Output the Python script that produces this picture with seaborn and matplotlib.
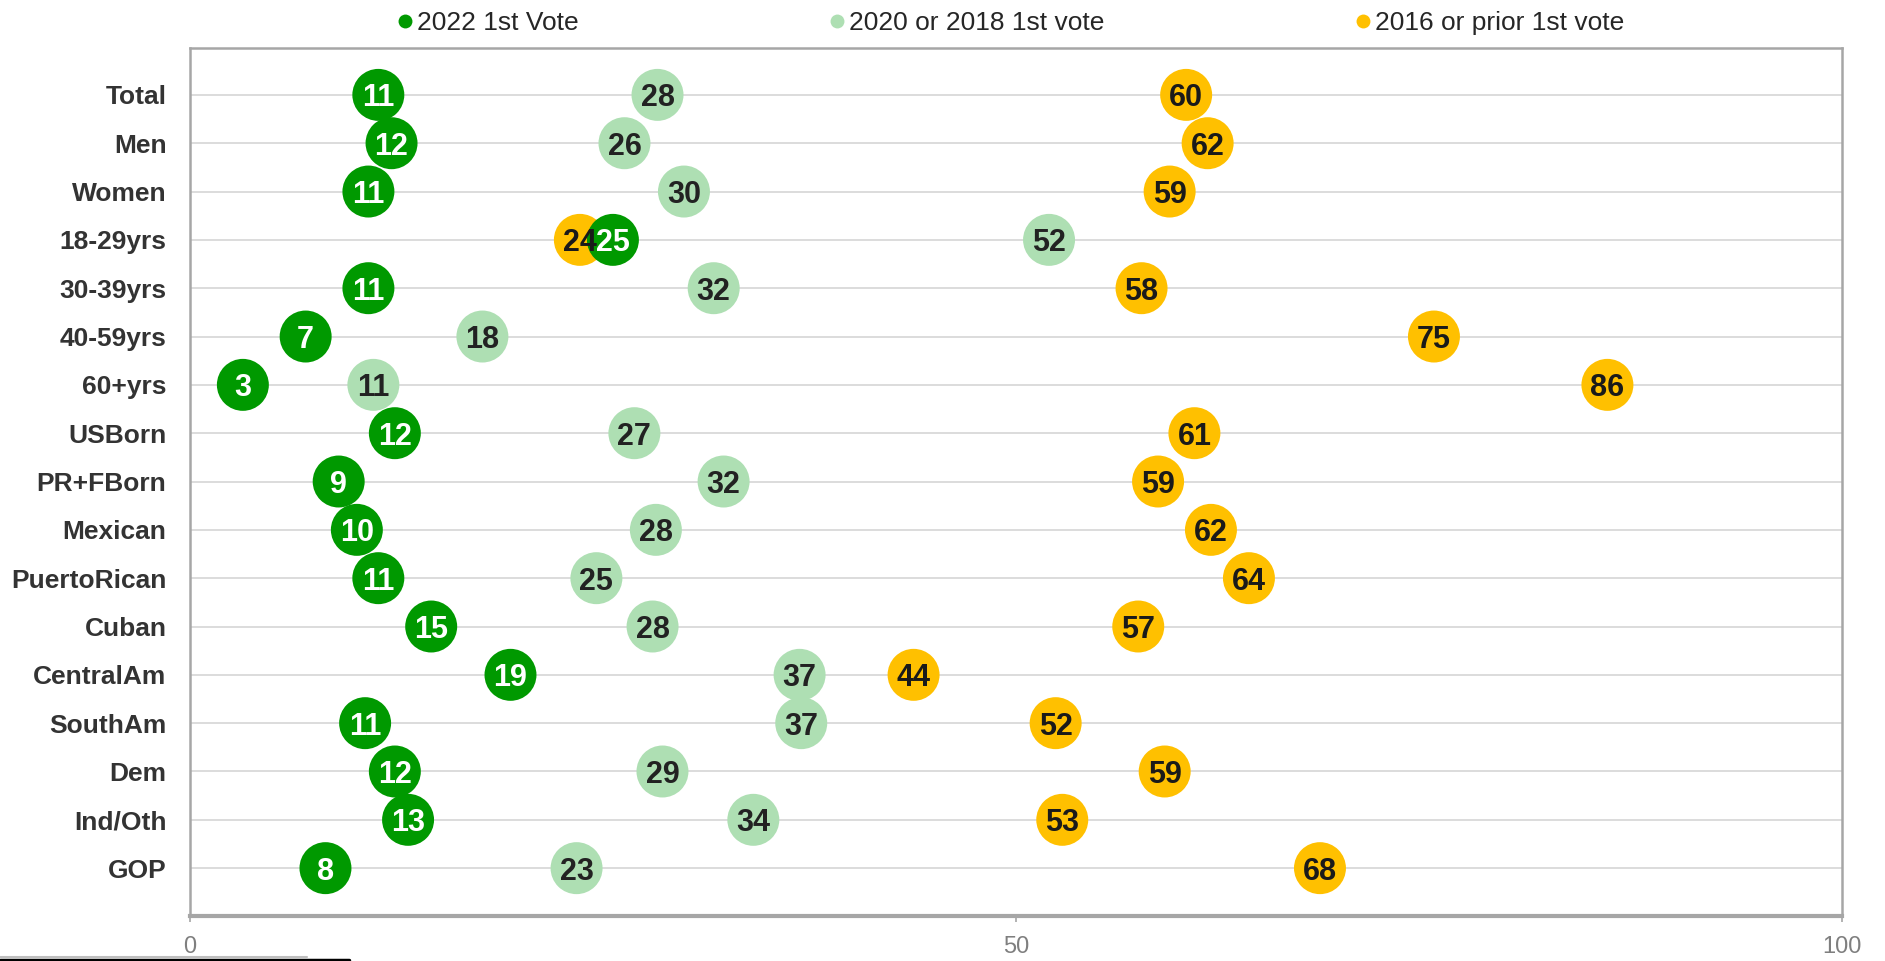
import matplotlib
matplotlib.use("Agg")
import matplotlib.pyplot as plt
from matplotlib.lines import Line2D
import pandas as pd
import seaborn as sns

groups = ["Total", "Men", "Women", "18-29yrs", "30-39yrs", "40-59yrs", "60+yrs",
          "USBorn", "PR+FBorn", "Mexican", "PuertoRican", "Cuban", "CentralAm",
          "SouthAm", "Dem", "Ind/Oth", "GOP"]

# printed (rounded) labels
first_2022 = [11, 12, 11, 25, 11, 7, 3, 12, 9, 10, 11, 15, 19, 11, 12, 13, 8]
first_2020_2018 = [28, 26, 30, 52, 32, 18, 11, 27, 32, 28, 25, 28, 37, 37, 29, 34, 23]
first_2016_prior = [60, 62, 59, 24, 58, 75, 86, 61, 59, 62, 64, 57, 44, 52, 59, 53, 68]

# unrounded positions, estimated from where the dots sit
pos_2022 = [11.4, 12.2, 10.8, 25.6, 10.8, 7.0, 3.2, 12.4, 9.0, 10.1, 11.4, 14.6, 19.4, 10.6, 12.4, 13.2, 8.2]
pos_2020_2018 = [28.3, 26.3, 29.9, 52.0, 31.7, 17.7, 11.1, 26.9, 32.3, 28.2, 24.6, 28.0, 36.9, 37.0, 28.6, 34.1, 23.4]
pos_2016_prior = [60.3, 61.6, 59.3, 23.6, 57.6, 75.3, 85.8, 60.8, 58.6, 61.8, 64.1, 57.4, 43.8, 52.4, 59.0, 52.8, 68.4]

series = ["2022 1st Vote", "2020 or 2018 1st vote", "2016 or prior 1st vote"]
colors = {"2022 1st Vote": "#009900",
          "2020 or 2018 1st vote": "#AEDFB3",
          "2016 or prior 1st vote": "#FFC000"}
text_colors = {"2022 1st Vote": "white",
               "2020 or 2018 1st vote": "#222222",
               "2016 or prior 1st vote": "#1A1A1A"}

# long table, drawn oldest first so the dark green dots sit on top
rows = []
for name, pos, lab in [(series[2], pos_2016_prior, first_2016_prior),
                       (series[1], pos_2020_2018, first_2020_2018),
                       (series[0], pos_2022, first_2022)]:
    for i, g in enumerate(groups):
        rows.append({"group": g, "row": i, "series": name, "value": pos[i], "label": lab[i]})
df = pd.DataFrame(rows)

sns.set_style("white")
plt.rcParams["font.family"] = ["Liberation Sans", "DejaVu Sans"]

fig = plt.figure(figsize=(18.85, 9.61), dpi=100)
ax = fig.add_axes([190 / 1885, 1 - 916 / 961, (1842 - 190) / 1885, (916 - 48) / 961])

for i in range(len(groups)):
    ax.axhline(i, color="#D9D9D9", lw=1.3, zorder=0)

sns.scatterplot(data=df, x="value", y="row", hue="series", hue_order=series,
                palette=colors, s=1400, edgecolor="none", linewidth=0,
                legend=False, ax=ax, zorder=3)

for _, r in df.iterrows():
    ax.text(r["value"], r["row"], str(r["label"]), ha="center", va="center_baseline",
            fontsize=22, fontweight="bold", color=text_colors[r["series"]], zorder=5)

ax.set_xlim(0, 100)
ax.set_ylim(16.99, -0.97)
ax.set_xticks([0, 50, 100])
ax.set_xticklabels(["0", "50", "100"])
ax.set_yticks(range(len(groups)))
ax.set_yticklabels(groups)
ax.set_xlabel("")
ax.set_ylabel("")

ax.tick_params(axis="y", length=0, pad=17, labelsize=19, labelcolor="#333333")
for lab in ax.get_yticklabels():
    lab.set_fontweight("bold")
ax.tick_params(axis="x", length=4.5, width=1.2, color="#A6A6A6", pad=10,
               labelsize=17, labelcolor="#7F7F7F", direction="out")
ax.xaxis.set_ticks_position("bottom")

for side in ["left", "top", "right"]:
    ax.spines[side].set_color("#A6A6A6")
    ax.spines[side].set_linewidth(1.8)
ax.spines["bottom"].set_color("#A6A6A6")
ax.spines["bottom"].set_linewidth(3)

handles = [Line2D([], [], marker="o", ls="", markersize=10, markeredgewidth=0,
                  color=colors[s]) for s in series]
fig.legend(handles, series, loc="center", bbox_to_anchor=(0.536, 1 - 23 / 961),
           ncol=3, frameon=False, fontsize=19, columnspacing=9.5,
           handlelength=0.6, handletextpad=0.15, labelcolor="#262626")

fig.add_artist(Line2D([0, 307 / 1885], [4.5 / 961, 4.5 / 961], color="#BFBFBF", lw=1.5,
                      transform=fig.transFigure))
fig.add_artist(Line2D([0, 349 / 1885], [1.5 / 961, 1.5 / 961], color="black", lw=2.5,
                      transform=fig.transFigure))

fig.savefig("out.png", dpi=100)
